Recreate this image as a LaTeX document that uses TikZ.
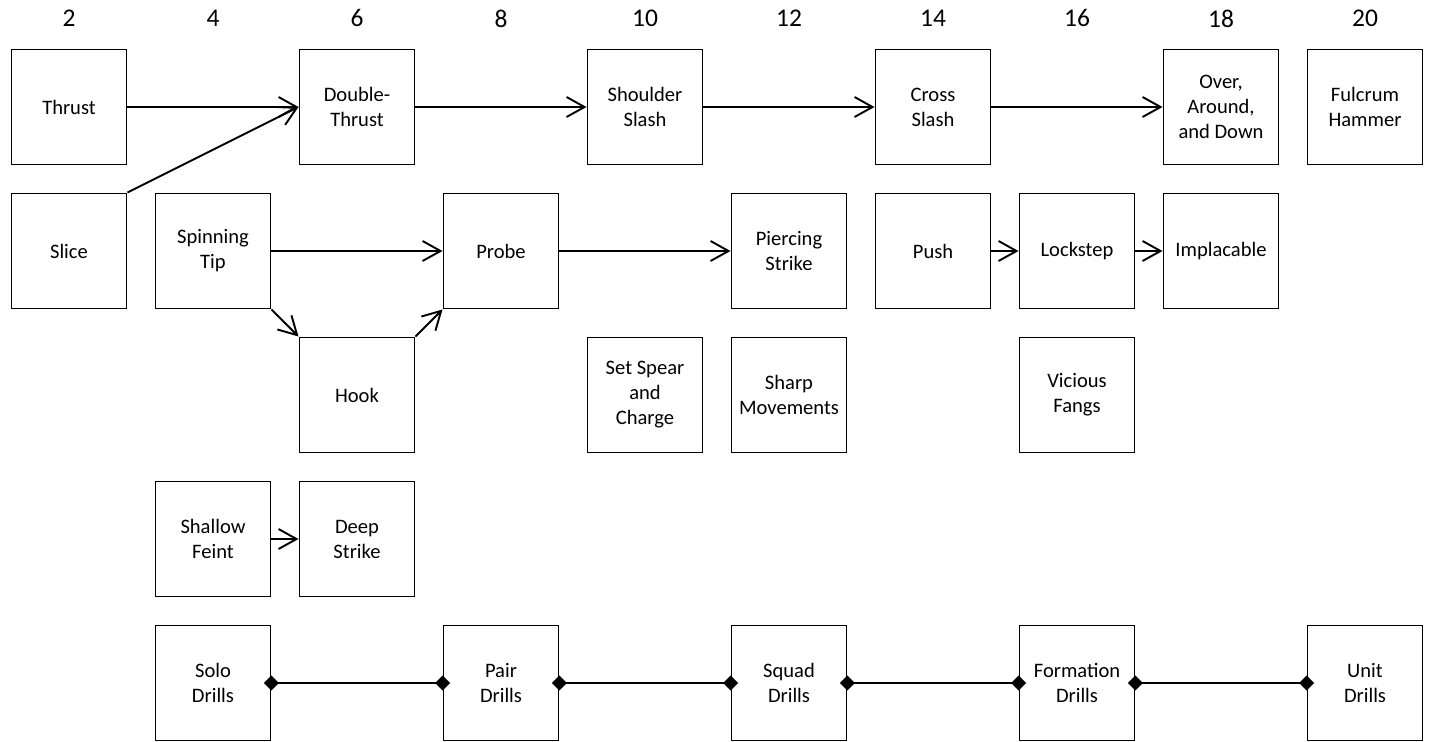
\documentclass[tikz,border=0pt]{standalone}
\usepackage{fontspec}
\setmainfont{Carlito}
\usetikzlibrary{arrows.meta,positioning}
\definecolor{inkblack}{HTML}{000000}
\tikzset{
  skill/.style={draw=inkblack, fill=white, minimum size=2.3cm, inner sep=1pt,
    align=center, line width=1.1pt, text=inkblack,
    font=\fontsize{11.7}{14.2}\selectfont},
  link/.style={-{Straight Barb[length=0.36cm, width=0.4cm]}, line width=1.1pt,
    color=inkblack},
  % drill chain, diamonds sit on the box edges
  chain/.style={{Diamond[length=0.3cm, width=0.3cm]}-{Diamond[length=0.3cm, width=0.3cm]},
    line width=1.1pt, color=inkblack, shorten <=-0.15cm, shorten >=-0.15cm},
  colnum/.style={font=\fontsize{14.5}{17}\selectfont, text=inkblack},
}

\begin{document}
\begin{tikzpicture}[x=1.44cm, y=-2.88cm]
  \useasboundingbox (0cm,0cm) rectangle (28.58cm,-14.84cm);
  \begin{scope}[shift={(-1.5cm,0.74cm)}]
    % level numbers
    \foreach \n in {2,4,...,20} {
      \node[colnum] (num\n) at (\n,0.385) {\n};
    }
    % first row
    \node[skill] (thrust)   at (2,1)  {Thrust};
    \node[skill] (dthrust)  at (6,1)  {Double-\\Thrust};
    \node[skill] (shoulder) at (10,1) {Shoulder\\Slash};
    \node[skill] (cross)    at (14,1) {Cross\\Slash};
    \node[skill] (over)     at (18,1) {Over,\\Around,\\and Down};
    \node[skill] (fulcrum)  at (20,1) {Fulcrum\\Hammer};
    % second row
    \node[skill] (slice)     at (2,2)  {Slice};
    \node[skill] (spinning)  at (4,2)  {Spinning\\Tip};
    \node[skill] (probe)     at (8,2)  {Probe};
    \node[skill] (piercing)  at (12,2) {Piercing\\Strike};
    \node[skill] (push)      at (14,2) {Push};
    \node[skill] (lockstep)  at (16,2) {Lockstep};
    \node[skill] (implacable) at (18,2) {Implacable};
    % third row
    \node[skill] (hook)    at (6,3)  {Hook};
    \node[skill] (setspear) at (10,3) {Set Spear\\and\\Charge};
    \node[skill] (sharp)   at (12,3) {Sharp\\Movements};
    \node[skill] (vicious) at (16,3) {Vicious\\Fangs};
    % fourth row
    \node[skill] (shallow) at (4,4) {Shallow\\Feint};
    \node[skill] (deep)    at (6,4) {Deep\\Strike};
    % drills
    \foreach \n/\nm/\txt in {4/solo/Solo, 8/pair/Pair, 12/squad/Squad,
                             16/formation/Formation, 20/unit/Unit} {
      \node[skill] (\nm) at (\n,5) {\txt\\Drills};
    }

    \draw[link] (thrust) -- (dthrust);
    \draw[link] (slice.north east) -- (dthrust.west);
    \draw[link] (dthrust) -- (shoulder);
    \draw[link] (shoulder) -- (cross);
    \draw[link] (cross) -- (over);
    \draw[link] (spinning) -- (probe);
    \draw[link] (spinning.south east) -- (hook.north west);
    \draw[link] (hook.north east) -- (probe.south west);
    \draw[link] (probe) -- (piercing);
    \draw[link] (push) -- (lockstep);
    \draw[link] (lockstep) -- (implacable);
    \draw[link] (shallow) -- (deep);
    \draw[chain] (solo.east) -- (pair.west);
    \draw[chain] (pair.east) -- (squad.west);
    \draw[chain] (squad.east) -- (formation.west);
    \draw[chain] (formation.east) -- (unit.west);
  \end{scope}
\end{tikzpicture}
\end{document}
